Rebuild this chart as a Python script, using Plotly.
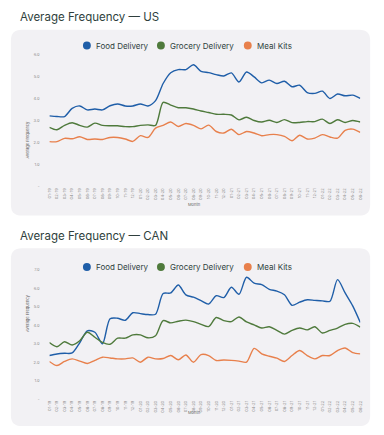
import plotly.graph_objects as go

W, H = 384, 435

months = [f"{m:02d}-{y}" for y in (19, 20, 21, 22) for m in range(1, 13)][:42]

series_names = ["Food Delivery", "Grocery Delivery", "Meal Kits"]
colors = ["#1f5ea8", "#4f7a3c", "#e8804c"]

us_food = [3.21, 3.18, 3.18, 3.55, 3.66, 3.48, 3.52, 3.48, 3.67, 3.75, 3.66, 3.66, 3.75, 3.66,
           3.9, 4.68, 5.17, 5.31, 5.31, 5.53, 5.23, 5.17, 5.08, 5.02, 5.16, 4.75, 5.2, 4.98,
           4.71, 4.83, 4.68, 4.78, 4.53, 4.6, 4.27, 4.23, 4.33, 4.0, 4.2, 4.12, 4.15, 4.0]
us_grocery = [2.69, 2.58, 2.78, 2.9, 2.78, 2.7, 2.88, 2.78, 2.76, 2.76, 2.72, 2.72, 2.78, 2.8,
              2.78, 3.82, 3.7, 3.58, 3.58, 3.52, 3.43, 3.36, 3.28, 3.28, 3.25, 3.03, 3.15, 3.0,
              2.93, 3.01, 2.91, 3.04, 2.9, 2.91, 2.95, 2.95, 3.06, 2.86, 3.03, 2.91, 3.0, 2.93]
us_mealkits = [2.04, 2.04, 2.19, 2.17, 2.26, 2.14, 2.16, 2.14, 2.23, 2.23, 2.16, 2.05, 2.31, 2.23,
               2.65, 2.78, 2.93, 2.73, 2.86, 2.78, 2.62, 2.79, 2.5, 2.43, 2.6, 2.36, 2.5, 2.43,
               2.31, 2.36, 2.36, 2.28, 2.08, 2.33, 2.16, 2.2, 2.36, 2.25, 2.2, 2.55, 2.61, 2.46]

can_food = [2.36, 2.44, 2.48, 2.5, 3.05, 3.7, 3.62, 3.0, 4.35, 4.38, 4.27, 4.68, 4.63, 4.58,
            4.6, 5.72, 5.75, 6.18, 5.65, 5.52, 5.33, 5.15, 5.6, 5.5, 6.06, 5.68, 6.6, 6.28,
            6.2, 5.95, 5.85, 5.65, 5.08, 5.25, 5.38, 5.35, 5.32, 5.3, 6.47, 5.75, 5.05, 4.15]
can_grocery = [3.07, 2.84, 3.11, 2.93, 3.16, 3.62, 3.35, 3.07, 2.97, 3.3, 3.3, 3.48, 3.48, 3.32,
               3.43, 4.25, 4.13, 4.22, 4.28, 4.2, 4.05, 3.93, 4.42, 4.25, 4.2, 4.45, 4.18, 4.02,
               3.85, 3.92, 3.72, 3.52, 3.72, 3.85, 3.75, 3.92, 3.58, 3.72, 3.85, 4.05, 4.1, 3.9]
can_mealkits = [2.04, 1.82, 2.04, 2.18, 2.06, 1.93, 2.1, 2.27, 2.23, 2.18, 2.18, 2.23, 2.0, 2.27,
                2.18, 2.2, 2.36, 2.13, 2.39, 2.0, 2.41, 2.36, 2.09, 2.12, 2.1, 2.06, 2.0, 2.75,
                2.45, 2.32, 2.22, 2.04, 2.36, 2.63, 2.36, 2.18, 2.36, 2.36, 2.63, 2.77, 2.52, 2.45]

us_yticks = [0, 1, 2, 3, 4, 5, 6]
can_yticks = [0, 1, 2, 3, 4, 5, 6, 7]
titles = ["Average Frequency \u2014 US", "Average Frequency \u2014 CAN"]


def px(x):
    return x / W


def py(y):
    return 1 - y / H


def rounded_rect(x0, y0, x1, y1, r):
    rx, ry = r / W, r / H
    X0, X1 = px(x0), px(x1)
    Y0, Y1 = py(y0), py(y1)  # Y0 top (larger), Y1 bottom
    return (f"M {X0+rx},{Y0} L {X1-rx},{Y0} Q {X1},{Y0} {X1},{Y0-ry} "
            f"L {X1},{Y1+ry} Q {X1},{Y1} {X1-rx},{Y1} L {X0+rx},{Y1} "
            f"Q {X0},{Y1} {X0},{Y1+ry} L {X0},{Y0-ry} Q {X0},{Y0} {X0+rx},{Y0} Z")


fig = go.Figure()

panels = [
    dict(data=[us_food, us_grocery, us_mealkits], yticks=us_yticks, ymax=6,
         top=52, bottom=185.7, box=(8, 27, 372, 215), title_y=14, legend_y=43,
         ytitle_y=118, month_y=204, ax=""),
    dict(data=[can_food, can_grocery, can_mealkits], yticks=can_yticks, ymax=7,
         top=270, bottom=400.7, box=(8, 248, 372, 428), title_y=236, legend_y=267,
         ytitle_y=335, month_y=419, ax="2"),
]

shapes = []
annotations = []
text_color = "#2f3f3d"
tick_color = "#8a8a8a"

for pi, p in enumerate(panels):
    xa = "x" + p["ax"]
    ya = "y" + p["ax"]
    for name, vals, col in zip(series_names, p["data"], colors):
        fig.add_trace(go.Scatter(x=months, y=vals, mode="lines", name=name,
                                 line=dict(color=col, width=1.4, shape="spline", smoothing=0.8),
                                 xaxis=xa, yaxis=ya, showlegend=False, hoverinfo="skip"))
    ydom = [py(p["bottom"]), py(p["top"])]
    axis_x = dict(domain=[px(47), px(362)], type="category", range=[0, 41],
                  showgrid=False, zeroline=False, showline=False,
                  tickangle=-90, tickfont=dict(size=4, color=tick_color, family="Inter"),
                  ticks="", anchor=ya)
    axis_y = dict(domain=ydom, range=[0, p["ymax"]], showgrid=False, zeroline=False,
                  showline=False, tickvals=p["yticks"],
                  ticktext=["-"] + [f"{v:.1f}" for v in p["yticks"][1:]],
                  tickfont=dict(size=4, color=tick_color, family="Inter"),
                  ticks="outside", ticklen=8, tickcolor="rgba(0,0,0,0)", anchor=xa)
    fig.update_layout(**{"xaxis" + p["ax"]: axis_x, "yaxis" + p["ax"]: axis_y})

    x0, y0, x1, y1 = p["box"]
    shapes.append(dict(type="path", xref="paper", yref="paper", path=rounded_rect(x0, y0, x1, y1, 11),
                       fillcolor="#f2f1f4", line=dict(width=0), layer="below"))
    annotations.append(dict(text=titles[pi], x=px(15), y=py(p["title_y"]), xref="paper", yref="paper",
                            xanchor="left", yanchor="middle", showarrow=False,
                            font=dict(size=11.5, color=text_color, family="Inter")))
    annotations.append(dict(text="Average Frequency", x=px(20), y=py(p["ytitle_y"]), xref="paper",
                            yref="paper", textangle=-90, showarrow=False,
                            font=dict(size=4, color="#666", family="Inter")))
    annotations.append(dict(text="Month", x=px(194), y=py(p["month_y"]), xref="paper", yref="paper",
                            showarrow=False, font=dict(size=4, color="#666", family="Inter")))
    # legend
    for cx, tx, name, col in zip([85, 160, 248], [92, 167, 255], series_names, colors):
        ly = p["legend_y"]
        shapes.append(dict(type="circle", xref="paper", yref="paper",
                           x0=px(cx - 4), x1=px(cx + 4), y0=py(ly + 4), y1=py(ly - 4),
                           fillcolor=col, line=dict(width=0)))
        annotations.append(dict(text=name, x=px(tx), y=py(ly), xref="paper", yref="paper",
                                xanchor="left", yanchor="middle", showarrow=False,
                                font=dict(size=8, color=text_color, family="Inter")))

fig.update_layout(width=W, height=H, margin=dict(l=0, r=0, t=0, b=0),
                  paper_bgcolor="white", plot_bgcolor="rgba(0,0,0,0)",
                  showlegend=False, shapes=shapes, annotations=annotations)

fig.write_html("out.html", config={"displayModeBar": False, "staticPlot": True},
               post_script="document.body.style.margin='0';document.body.style.overflow='hidden';")
